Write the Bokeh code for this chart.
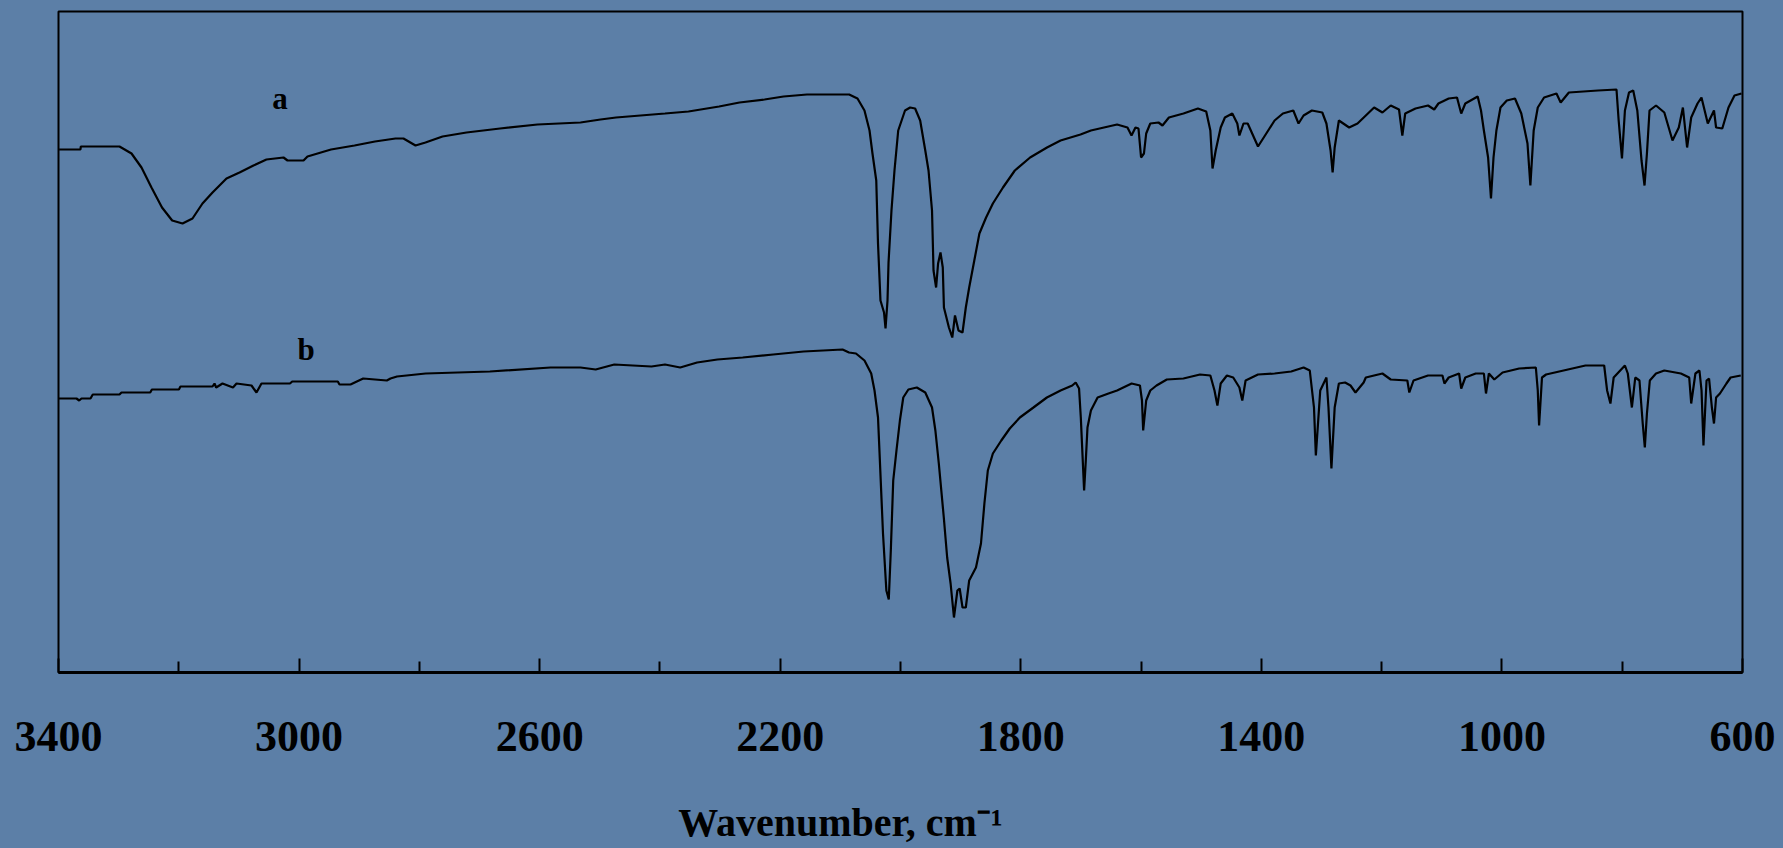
from bokeh.plotting import figure
from bokeh.models import Range1d, FixedTicker, Label, ColumnDataSource
from bokeh.embed import file_html
from bokeh.resources import INLINE

# ---- data (wavenumber, cm-1 ; transmittance, arbitrary units) ----
tick_values = [3400, 3000, 2600, 2200, 1800, 1400, 1000, 600]
minor_tick_values = [3200, 2800, 2400, 2000, 1600, 1200, 800]

a_wn = [3399, 3363.4, 3363, 3298.6, 3278.6, 3262, 3245.4, 3227.9, 3211, 3193.8,
        3177.2, 3160.6, 3143.9, 3120.7, 3099, 3075.8, 3054.2, 3025.9, 3019.2, 2992.6,
        2986, 2946.9, 2907.8, 2873.8, 2839.7, 2826.4, 2806.4, 2789.8, 2761.5, 2721.6,
        2665.8, 2603.6, 2532.1, 2498.8, 2473, 2391.6, 2352.5, 2301.6, 2267.7, 2226.1,
        2194.5, 2155.5, 2085.3, 2071.5, 2059.9, 2051.5, 2046.6, 2040.3, 2037.4, 2033.3,
        2027.4, 2024.9, 2021.6, 2019.9, 2015, 2010, 2003.8, 1992.5, 1984, 1975.7,
        1967.3, 1958.8, 1953.4, 1947.6, 1945.1, 1940.8, 1937.5, 1933.5, 1929.7, 1927.8,
        1919.5, 1913.9, 1909.4, 1903.6, 1896.9, 1891.4, 1885.8, 1877.3, 1868.8, 1857.7,
        1846.4, 1829.6, 1809.9, 1784.5, 1756.4, 1733.9, 1700.7, 1683.4, 1639.9, 1622.6,
        1615.9, 1609.3, 1604.3, 1600, 1595.2, 1591.5, 1584.7, 1571, 1564.4, 1553.7,
        1529.5, 1505.5, 1491.7, 1484.8, 1481.2, 1475.9, 1467.6, 1460.6, 1448.3, 1440,
        1436.5, 1429.7, 1422.7, 1405.6, 1391.8, 1378, 1364.2, 1346.9, 1338.2, 1329.8,
        1316, 1298.7, 1291.8, 1284.9, 1281.5, 1278.1, 1271.1, 1254, 1240.1, 1226.3,
        1212.5, 1198.7, 1184.9, 1171.1, 1165.6, 1160.8, 1143.7, 1122.9, 1112.6, 1105.6,
        1088.5, 1074.7, 1067.7, 1060.9, 1040.3, 1034.8, 1030, 1023, 1018.2, 1014,
        1009.2, 1002.4, 991.9, 978.3, 967.8, 957.5, 952.7, 947.2, 940.4, 929.9,
        909.3, 902.3, 888.7, 840.3, 809.5, 805.9, 800.4, 795.5, 788.7, 781.7,
        774.9, 767.9, 762.9, 758.9, 754.6, 743.8, 730, 716.4, 705.9, 699.1,
        692.1, 685.3, 674.8, 668.2, 657.7, 647.4, 643.9, 633.6, 623.3, 613.3,
        601.7]
a_T = [52.3, 52.3, 52.6, 52.6, 51.9, 50.5, 48.5, 46.5, 45.2, 44.9,
       45.4, 46.9, 48.0, 49.4, 50.0, 50.7, 51.3, 51.5, 51.2, 51.2,
       51.6, 52.3, 52.7, 53.1, 53.4, 53.4, 52.7, 53.0, 53.6, 54.0,
       54.4, 54.8, 55.0, 55.3, 55.5, 55.9, 56.1, 56.6, 57.0, 57.3,
       57.6, 57.8, 57.8, 57.4, 56.2, 54.2, 51.9, 49.2, 42.9, 37.2,
       36.0, 34.4, 37.2, 41.0, 46.2, 50.2, 54.2, 56.2, 56.5, 56.4,
       55.2, 52.2, 50.2, 46.2, 40.2, 38.5, 40.9, 42.0, 40.5, 36.5,
       34.5, 33.5, 35.7, 34.2, 34.0, 36.5, 38.5, 41.2, 43.9, 45.5,
       46.9, 48.5, 50.2, 51.5, 52.5, 53.2, 53.8, 54.2, 54.8, 54.5,
       53.7, 54.5, 54.4, 51.5, 51.9, 53.9, 54.9, 55.0, 54.7, 55.5,
       55.9, 56.4, 56.1, 54.2, 50.4, 52.2, 54.5, 55.5, 55.9, 54.9,
       53.7, 54.9, 54.9, 52.6, 53.9, 55.2, 55.9, 56.2, 54.9, 55.7,
       56.2, 56.0, 54.9, 52.2, 50.0, 52.5, 55.2, 54.5, 54.9, 55.7,
       56.5, 56.0, 56.7, 56.3, 53.7, 55.9, 56.4, 56.7, 56.3, 56.9,
       57.4, 57.5, 55.9, 56.9, 57.6, 56.2, 54.2, 51.5, 47.4, 51.5,
       54.2, 56.5, 57.2, 57.4, 55.9, 52.9, 48.7, 54.2, 56.5, 57.5,
       57.9, 57.0, 58.0, 58.2, 58.3, 55.2, 51.4, 56.2, 58.0, 58.2,
       56.2, 51.2, 48.7, 51.9, 56.2, 56.7, 56.0, 53.2, 54.5, 56.5,
       52.5, 55.5, 56.9, 57.5, 54.9, 56.2, 54.5, 54.4, 56.5, 57.7,
       57.9]

b_wn = [3399.2, 3370.1, 3365.6, 3361.8, 3346.8, 3343, 3298.6, 3295.3, 3247.5, 3244.7,
        3199.8, 3197.2, 3143.9, 3140.6, 3137.9, 3127.3, 3109.9, 3104, 3079.1, 3070.8,
        3062.5, 3015.1, 3011.4, 2935.6, 2932.8, 2914.5, 2893.4, 2854.1, 2848, 2837.2,
        2789.5, 2682.7, 2581.9, 2532.1, 2506.8, 2475.9, 2414, 2391.6, 2366.3, 2338.2,
        2304.4, 2262.4, 2211.7, 2161.1, 2096.4, 2085.6, 2074, 2059.9, 2048.7, 2043.2,
        2037.4, 2034.8, 2029.1, 2023.5, 2019.5, 2016.1, 2012.1, 2006.7, 2001, 1995.4,
        1986.9, 1972.9, 1958.8, 1947.6, 1942, 1936.3, 1928, 1922.4, 1916.7, 1911.1,
        1905.4, 1901.6, 1896.9, 1891.4, 1885.8, 1874.5, 1866.2, 1860.5, 1854.8, 1846.4,
        1832.4, 1818.3, 1801.5, 1779, 1756.6, 1733.9, 1714.4, 1708.7, 1703.1, 1700.2,
        1694.7, 1691.9, 1689.1, 1683.4, 1672.3, 1654.2, 1639.9, 1615.7, 1601.9, 1598.5,
        1596.5, 1591.5, 1584.7, 1574.3, 1557.2, 1529.6, 1502, 1484.8, 1477.9, 1473.1,
        1467.6, 1457.3, 1446.8, 1436.5, 1431.7, 1426.2, 1405.6, 1378, 1350.4, 1329.8,
        1319.5, 1312.5, 1309.4, 1302.1, 1291.8, 1288.4, 1283.5, 1278.1, 1271.1, 1260.8,
        1251.8, 1243.5, 1229.9, 1226.3, 1198.7, 1184.9, 1157.3, 1154, 1147, 1122.9,
        1098.9, 1095.6, 1088.5, 1071.2, 1067.7, 1060.9, 1043.6, 1030, 1026.5, 1021.7,
        1012.7, 998.9, 971.3, 943.6, 940.4, 938.2, 933.4, 926.6, 861.1, 830,
        825.1, 819.6, 814.2, 795.5, 790.7, 783.9, 778.3, 771.3, 765.9, 762.4,
        758.9, 754.1, 743.8, 730, 702.4, 688.6, 685.3, 678.3, 671.6, 668.1,
        664.9, 659.8, 655.6, 650.9, 647.4, 643.9, 637.5, 626.7, 619.8, 602.9]
b_T = [27.4, 27.4, 27.2, 27.4, 27.4, 27.8, 27.8, 28.0, 28.0, 28.3,
       28.3, 28.6, 28.6, 28.9, 28.5, 28.9, 28.5, 28.9, 28.7, 28.0,
       28.9, 28.9, 29.1, 29.1, 28.8, 28.8, 29.4, 29.2, 29.4, 29.6,
       29.9, 30.1, 30.5, 30.5, 30.3, 30.8, 30.6, 30.8, 30.5, 31.0,
       31.3, 31.5, 31.8, 32.1, 32.3, 32.0, 31.9, 31.2, 29.9, 28.2,
       25.5, 21.9, 13.9, 8.2, 7.3, 12.2, 19.2, 22.2, 25.2, 27.5,
       28.3, 28.5, 28.0, 26.5, 24.2, 20.9, 15.5, 11.5, 8.9, 5.5,
       8.2, 8.4, 6.5, 6.5, 9.2, 10.5, 12.9, 16.9, 20.2, 21.9,
       23.2, 24.4, 25.5, 26.5, 27.5, 28.2, 28.7, 29.0, 28.4, 25.5,
       18.2, 21.2, 24.5, 26.2, 27.5, 27.9, 28.2, 28.9, 28.7, 27.2,
       24.2, 27.2, 28.2, 28.7, 29.3, 29.4, 29.8, 29.7, 28.2, 26.7,
       28.9, 29.7, 29.5, 28.5, 27.2, 29.2, 29.8, 29.9, 30.1, 30.5,
       30.2, 26.5, 21.7, 28.2, 29.5, 26.5, 20.4, 26.5, 28.9, 29.0,
       28.7, 28.0, 29.0, 29.5, 29.9, 29.3, 29.2, 28.0, 29.2, 29.7,
       29.7, 28.9, 29.5, 29.9, 28.4, 29.5, 29.9, 29.9, 27.9, 29.9,
       29.3, 30.0, 30.4, 30.5, 28.2, 24.7, 29.5, 29.8, 30.7, 30.7,
       28.2, 26.9, 29.5, 30.7, 29.9, 26.5, 29.5, 29.2, 24.9, 22.5,
       25.9, 29.2, 29.9, 30.2, 29.9, 29.5, 26.9, 29.9, 30.2, 28.2,
       22.7, 29.2, 29.4, 26.5, 24.9, 27.5, 27.9, 28.9, 29.5, 29.7]

series_names = ["a", "b"]
label_wn = [3031.7, 2988.1]
label_T = [57.4, 32.3]
x_title = "Wavenumber, cm\u207b\u00b9"

# ---- styling ----
BG = "#5c7fa7"
FONT = "Liberation Serif"

p = figure(width=1783, height=848, output_backend="svg", toolbar_location=None,
           x_range=Range1d(3400, 600), y_range=Range1d(0, 66.1),
           y_axis_location=None,
           min_border_left=58, min_border_right=41, min_border_top=11, min_border_bottom=176,
           background_fill_color=BG, border_fill_color=BG)
p.xgrid.visible = False
p.ygrid.visible = False
p.outline_line_color = "black"
p.outline_line_width = 2

xa = p.xaxis[0]
xa.ticker = FixedTicker(ticks=tick_values, minor_ticks=minor_tick_values)
xa.major_tick_in = 14
xa.major_tick_out = 0
xa.minor_tick_in = 11
xa.minor_tick_out = 0
xa.major_tick_line_width = 2
xa.minor_tick_line_width = 2
xa.major_tick_line_color = "black"
xa.minor_tick_line_color = "black"
xa.axis_line_width = 3
xa.axis_line_color = "black"
xa.major_label_text_font = FONT
xa.major_label_text_font_style = "bold"
xa.major_label_text_font_size = "44px"
xa.major_label_text_color = "black"
xa.major_label_standoff = 49

# axis title, shifted left of the frame centre by trailing no-break spaces
xa.axis_label = x_title + "\u00a0" * 12
xa.axis_label_standoff = 46
xa.axis_label_text_font = FONT
xa.axis_label_text_font_style = "bold"
xa.axis_label_text_font_size = "40px"
xa.axis_label_text_color = "black"

src_a = ColumnDataSource(dict(x=a_wn, y=a_T))
src_b = ColumnDataSource(dict(x=b_wn, y=b_T))
p.line("x", "y", source=src_a, line_color="black", line_width=2.2)
p.line("x", "y", source=src_b, line_color="black", line_width=2.2)

for name, lx, ly in zip(series_names, label_wn, label_T):
    p.add_layout(Label(x=lx, y=ly, text=name, text_align="center", text_baseline="alphabetic",
                       text_font=FONT, text_font_style="bold", text_font_size="31px",
                       text_color="black"))

html = file_html(p, INLINE, title="IR spectra")
html = html.replace("<head>", "<head><style>html,body{background:%s;}</style>" % BG, 1)
open("out.html", "w").write(html)
